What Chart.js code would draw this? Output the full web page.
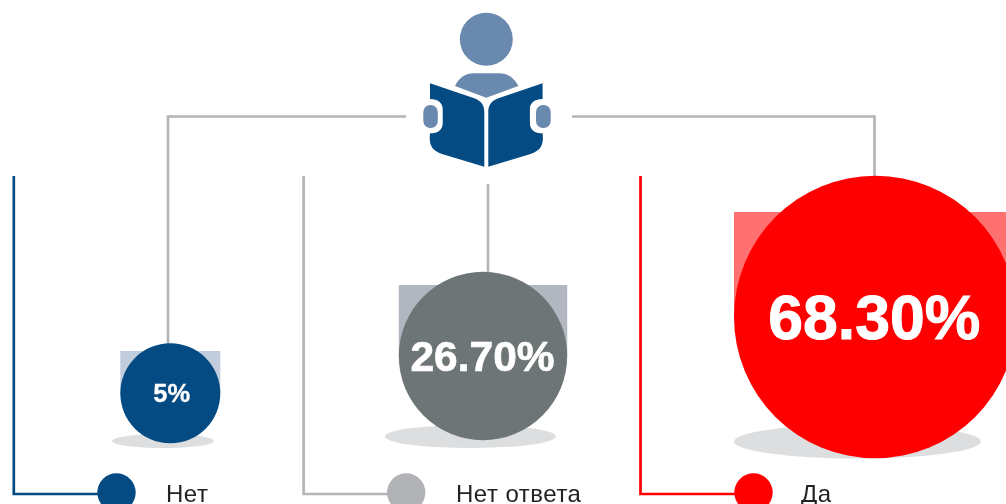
<!DOCTYPE html>
<html>
<head>
<meta charset="utf-8">
<title>Chart</title>
<script src="https://cdn.jsdelivr.net/npm/chart.js@4"></script>
<style>
    html, body { margin: 0; padding: 0; background: #fff; overflow: hidden; }
    canvas { display: block; }
</style>
</head>
<body>
<canvas id="readersChart" width="1006" height="504"></canvas>
<script>
// ----------------------------
// Data
// ----------------------------
const categories = ['Нет', 'Нет ответа', 'Да'];
const shareValues = [5, 26.7, 68.3];
const valueLabels = ['5%', '26.70%', '68.30%'];

// ----------------------------
// Layout (scales run in page pixels, the picture is not a plotted axis)
// ----------------------------
const bubbleX = [170.3, 483, 875.3];
const bubbleY = [393.3, 356, 317];
const bubbleR = [50, 84.2, 141.3];
const bubbleColors = ['#044a83', '#6e7576', '#ff0000'];
const backColors = ['#c1cddd', '#b2b6c0', '#ff7070'];
const backTop = [351, 285, 212];
const shadowX = [163, 470.5, 857.5];
const shadowY = [441, 436.5, 441.5];
const shadowRx = [51, 85.5, 123.5];
const shadowRy = [7, 11.5, 17];
const labelSizes = [25.5, 42.5, 62.5];
const labelShiftX = [1.5, -0.5, -1];
const labelShiftY = [2, 3, 5];
const labelStroke = [0.3, 0.7, 1];
const legendX = [116.5, 406.2, 753.5];
const legendY = 492.5;
const legendR = 19.2;
const legendColors = ['#044a83', '#b2b3b7', '#ff0000'];
const legendTextX = [166, 456, 801];
const legendLineX = [13.8, 303.6, 640.5];
const legendLineColors = ['#044a83', '#b5b5b5', '#ff0000'];

const GREY_LINE = '#b5b5b5';
const FONT = '"Liberation Sans", Arial, sans-serif';

function drawLine(ctx, color, points) {
    ctx.strokeStyle = color;
    ctx.lineWidth = 2.7;
    ctx.lineJoin = 'miter';
    ctx.beginPath();
    points.forEach((p, i) => i ? ctx.lineTo(p[0], p[1]) : ctx.moveTo(p[0], p[1]));
    ctx.stroke();
}

// reader icon on top of the connectors
function drawReader(ctx) {
    const pale = '#6a89ae';
    const dark = '#044a83';

    ctx.fillStyle = pale;
    ctx.beginPath();
    ctx.arc(486.3, 39.3, 26.5, 0, Math.PI * 2);
    ctx.fill();

    ctx.fill(new Path2D('M455 86 C459 78 465 73.3 474 73.3 L499 73.3 C508 73.3 514 78 518.3 86 L486.3 97.7 Z'));

    const page = new Path2D('M430 83.3 L475 98.5 C481 101 484.3 105 484.3 112 L484.3 166.7 L442 154 C433 151 429.7 146 429.7 138 L430 133.3 C438 133.3 442.7 130 442.7 123 L442.7 109 C442.7 103 438 99 430 99 Z');
    ctx.fillStyle = dark;
    ctx.fill(page);
    ctx.save();
    ctx.translate(972.6, 0);
    ctx.scale(-1, 1);
    ctx.fill(page);
    ctx.restore();

    ctx.fillStyle = pale;
    ctx.beginPath();
    ctx.roundRect(423.3, 105, 14.5, 23, 7);
    ctx.roundRect(536, 105, 14.7, 23, 7);
    ctx.fill();
}

const backdropPlugin = {
    id: 'backdrop',
    beforeDatasetsDraw(chart) {
        const ctx = chart.ctx;
        const xs = chart.scales.x;
        const ys = chart.scales.y;
        ctx.save();

        // connectors from the icon
        drawLine(ctx, GREY_LINE, [[406, 116.5], [168, 116.5], [168, 344]]);
        drawLine(ctx, GREY_LINE, [[572, 116.5], [874.5, 116.5], [874.5, 177]]);
        drawLine(ctx, GREY_LINE, [[488, 184], [488, 272]]);

        // legend brackets
        categories.forEach((c, i) => {
            drawLine(ctx, legendLineColors[i], [[legendLineX[i], 176], [legendLineX[i], 494], [legendX[i], 494]]);
        });

        // pale square and floor shadow behind each bubble
        categories.forEach((c, i) => {
            const left = xs.getPixelForValue(bubbleX[i] - bubbleR[i]);
            const right = xs.getPixelForValue(bubbleX[i] + bubbleR[i]);
            const top = ys.getPixelForValue(backTop[i]);
            const bottom = ys.getPixelForValue(bubbleY[i]);
            ctx.fillStyle = backColors[i];
            ctx.fillRect(left, top, right - left, bottom - top);

            ctx.fillStyle = '#dcdee0';
            ctx.beginPath();
            ctx.ellipse(xs.getPixelForValue(shadowX[i]), ys.getPixelForValue(shadowY[i]), shadowRx[i], shadowRy[i], 0, 0, Math.PI * 2);
            ctx.fill();
        });

        drawReader(ctx);
        ctx.restore();
    },
    afterDatasetsDraw(chart) {
        const ctx = chart.ctx;
        const xs = chart.scales.x;
        const ys = chart.scales.y;
        ctx.save();

        // values inside the bubbles, slightly stroked since the original is heavier
        ctx.fillStyle = '#ffffff';
        ctx.strokeStyle = '#ffffff';
        ctx.textAlign = 'center';
        ctx.textBaseline = 'middle';
        categories.forEach((c, i) => {
            const px = xs.getPixelForValue(bubbleX[i]) + labelShiftX[i];
            const py = ys.getPixelForValue(bubbleY[i]) + labelShiftY[i];
            ctx.font = 'bold ' + labelSizes[i] + 'px ' + FONT;
            ctx.lineWidth = labelStroke[i];
            ctx.fillText(valueLabels[i], px, py);
            ctx.strokeText(valueLabels[i], px, py);
        });

        // legend text
        ctx.fillStyle = '#222222';
        ctx.textAlign = 'left';
        ctx.textBaseline = 'alphabetic';
        ctx.font = '24px ' + FONT;
        ctx.letterSpacing = '0.5px';
        categories.forEach((c, i) => {
            ctx.fillText(c, legendTextX[i], 502);
        });
        ctx.restore();
    }
};

// ----------------------------
// Chart
// ----------------------------
new Chart(document.getElementById('readersChart').getContext('2d'), {
    type: 'bubble',
    data: {
        datasets: [
            {
                label: 'Доля',
                data: categories.map((c, i) => ({ x: bubbleX[i], y: bubbleY[i], r: bubbleR[i], value: shareValues[i] })),
                backgroundColor: bubbleColors,
                borderWidth: 0
            },
            {
                label: 'Легенда',
                data: categories.map((c, i) => ({ x: legendX[i], y: legendY, r: legendR })),
                backgroundColor: legendColors,
                borderWidth: 0
            }
        ]
    },
    options: {
        responsive: false,
        animation: false,
        events: [],
        layout: { padding: 0, autoPadding: false },
        plugins: { legend: { display: false }, tooltip: { enabled: false } },
        scales: {
            x: { type: 'linear', display: false, min: 0, max: 1006 },
            y: { type: 'linear', display: false, min: 0, max: 504, reverse: true }
        }
    },
    plugins: [backdropPlugin]
});
</script>
</body>
</html>
